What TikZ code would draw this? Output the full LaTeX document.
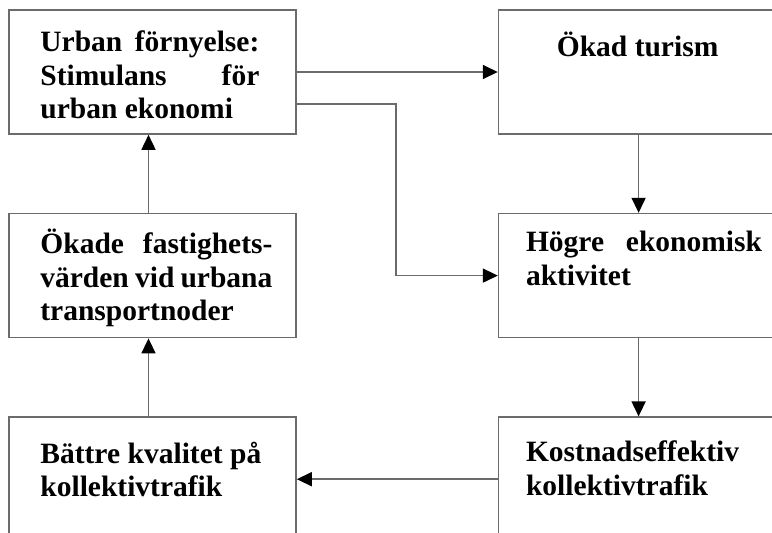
\documentclass[tikz,border=0pt]{standalone}
\usepackage{fontspec}
\setmainfont{Liberation Serif}
\definecolor{linegray}{rgb}{0.42,0.42,0.42}
\usepackage{tikz}
\usetikzlibrary{shapes,arrows.meta,positioning,calc}

\begin{document}
\begin{tikzpicture}[x=1pt,y=-1pt,
    box/.style={draw=linegray,line width=1.6pt,minimum height=124pt,inner sep=0pt},
    lbox/.style={box,minimum width=287pt},
    rbox/.style={box,minimum width=280pt},
    txt/.style={inner sep=0pt,align=justify,anchor=base west,
        font={\fontsize{29.5}{33.3}\selectfont\bfseries\hyphenpenalty=10000}},
    conn/.style={draw=linegray,line width=1.6pt,
        -{Triangle[length=15pt,width=14pt,color=black]}}]
    \useasboundingbox (0,0) rectangle (772,533);
    \clip (0,0) rectangle (772,533);

    % Left column
    \node[lbox] (urban) at (152.5,72) {};
    \node[lbox,below=78pt of urban] (fastighet) {};
    \node[lbox,below=78pt of fastighet] (battre) {};

    % Right column
    \node[rbox,right=201pt of urban] (turism) {};
    \node[rbox,below=78pt of turism] (hogre) {};
    \node[rbox,below=78pt of hogre] (kostnad) {};

    % Texts
    \node[txt,text width=219pt] (urban-t) at ([xshift=32pt,yshift=-42.7pt]urban.north west)
        {Urban förnyelse:\linebreak Stimulans för\linebreak urban ekonomi};
    \node[txt,text width=232pt] (fastighet-t) at ([xshift=32pt,yshift=-41pt]fastighet.north west)
        {Ökade fastighets-\linebreak värden vid urbana\linebreak transportnoder};
    \node[txt,text width=221pt] (battre-t) at ([xshift=32pt,yshift=-46.7pt]battre.north west)
        {Bättre kvalitet på\linebreak kollektivtrafik};
    \node[txt,align=center,anchor=base] (turism-t) at ([xshift=-1pt,yshift=-47pt]turism.north)
        {Ökad turism};
    \node[txt,text width=236pt] (hogre-t) at ([xshift=28pt,yshift=-39pt]hogre.north west)
        {Högre ekonomisk\linebreak aktivitet};
    \node[txt,text width=236pt] (kostnad-t) at ([xshift=28pt,yshift=-45.3pt]kostnad.north west)
        {Kostnadseffektiv\\ kollektivtrafik};

    % Connectors
    \coordinate (bend) at (396,104);
    \draw[conn] (urban.east) -- (urban.east -| turism.west);
    \draw[conn] (urban.east |- bend) -- (bend) |- (hogre.west);
    \draw[conn] (turism.south) -- (hogre.north);
    \draw[conn] (hogre.south) -- (kostnad.north);
    \draw[conn] (kostnad.west) -- (battre.east);
    \draw[conn] ([xshift=-4pt]battre.north) -- ([xshift=-4pt]fastighet.south);
    \draw[conn] ([xshift=-4pt]fastighet.north) -- ([xshift=-4pt]urban.south);
\end{tikzpicture}
\end{document}
